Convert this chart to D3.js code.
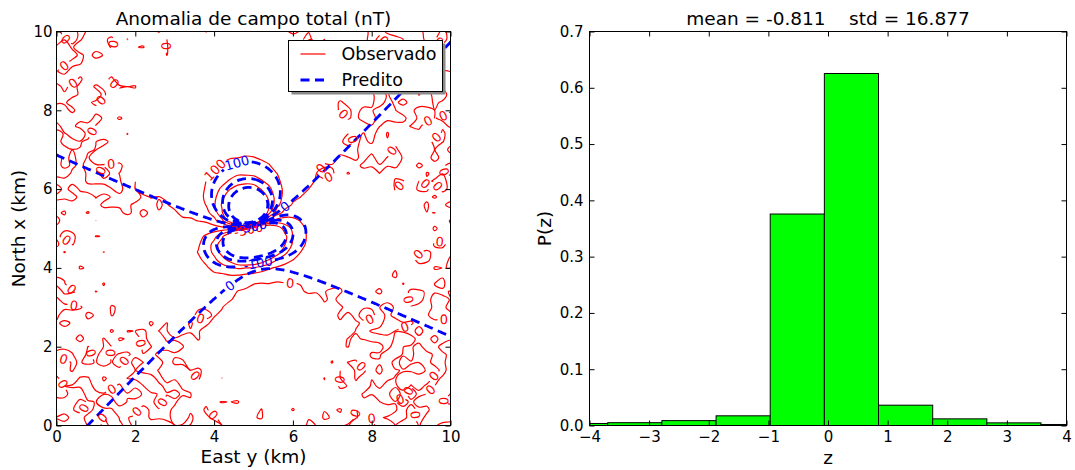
<!DOCTYPE html>
<html>
<head>
<meta charset="utf-8">
<script src="https://cdn.jsdelivr.net/npm/d3@7"></script>
<style>
  body { margin: 0; background: #fff; }
  svg { display: block; font-family: "DejaVu Sans", sans-serif; }
</style>
</head>
<body>
<svg id="fig" width="1075" height="470"></svg>
<script>
// ---------------- contour map ----------------
const eastTicks = [0, 2, 4, 6, 8, 10];
const northTicks = [0, 2, 4, 6, 8, 10];
const contourLevels = [-300, -200, -100, 0, 100, 200, 300];

// grids: points per side, first and last coordinate (km)
const gridObserved = [51, 0, 10];
const gridPredicted = [201, 0, 10];

// dipole sources: east, north, depth (km), moment (nT·km³), inclination, declination (deg)
const sourceObserved = [4.93, 4.86, 0.66, 490, -48.0, -11.0];
const sourcePredicted = [5.0, 4.90, 0.626, 374, -38.7, -11.0];
// inducing field: inclination, declination (deg)
const mainField = [0, -11.0];

// measurement noise of the observed stations, one digit per station (row by row),
// digit d -> (d - 4.5) * noiseStep nT
const noiseStep = 1.3;
const noiseDigits = [
  "3141592653589793238462643383279502884197169399375105820974944592307816406286208998628034825342117067982148086513282306647093844609550582231725359408128481117450284102701938521105559644622948954930381964428810975665933446128475648233786783165271201909145648566923460348610454326648213393607260249141273724587006606315588174881520920962829254091715364367892590360011330530548820466521384146951941511609433057270365759591953092186117381932611793105118548074462379962749567351885752724891227938183011949129833673362440656643086021394946395224737190702179860943702770539217176293176752384674818467669405132000568127145263560827785771342757789609173637178721468440901224953430146549585371050792279689258923542019956112129021960864034418159813629774771309960518707211349999998372978049951059731732816096318595024459455346908302642522308253344685035261931188171010003137838752886587533208381420617177669147303598253490428755468731159562863882353787593751957781857780532171226806613001927876611195909216420198",
  "2718281828459045235360287471352662497757247093699959574966967627724076630353547594571382178525166427427466391932003059921817413596629043572900334295260595630738132328627943490763233829880753195251019011573834187930702154089149934884167509244761460668082264800168477411853742345442437107539077744992069551702761838606261331384583000752044933826560297606737113200709328709127443747047230696977209310141692836819025515108657463772111252389784425056953696770785449969967946864454905987931636889230098793127736178215424999229576351482208269895193668033182528869398496465105820939239829488793320362509443117301238197068416140397019837679320683282376464804295311802328782509819455815301756717361332069811250996181881593041690351598888519345807273866738589422879228499892086805825749279610484198444363463244968487560233624827041978623209002160990235304369941849146314093431738143640546253152096183690888707016768396424378140592714563549061303107208510383750510115747704171898610687396965521267154688957035035",
  "1414213562373095048801688724209698078569671875376948073176679737990732478462107038850387534327641572735013846230912297024924836055850737212644121497099935831413222665927505592755799950501152782060571470109559971605970274534596862014728517418640889198609552329230484308714321450839762603627995251407989687253396546331808829640620615258352395054745750287759961729835575220337531857011354374603408498847160386899970699004815030544027790316454247823068492936918621580578463111596668713013015618568987237235288509264861249497715421833420428568606014682472077143585487415565706967765372022648544701585880162075847492265722600208558446652145839889394437092659180031138824646815708263010059485870400318648034219489727829064104507263688131373985525611732204024509122770022694112757362728049573810896750401836986836845072579936472906076299694138047565482372899718032680247442062926912485905218100445984215059112024944134172853147810580360337107730918286931471017111168391658172688941975871658215212822951848847"
];

// ---------------- histogram of residuals ----------------
const binEdges = [-4.602, -3.694, -2.786, -1.877, -0.969, -0.061, 0.847, 1.756, 2.664, 3.572, 4.481];
const binDensity = [0.0036, 0.0050, 0.0087, 0.0172, 0.3757, 0.6254, 0.0361, 0.0118, 0.0047, 0.0018];
const zTicks = [-4, -3, -2, -1, 0, 1, 2, 3, 4];
const pTicks = [0, 0.1, 0.2, 0.3, 0.4, 0.5, 0.6, 0.7];
const residualStats = [-0.811, 16.877]; // mean, std

// ---------------- layout ----------------
const svg = d3.select("#fig");
svg.append("rect").attr("width", 1075).attr("height", 470).attr("fill", "#fff");
const FONT = "DejaVu Sans, sans-serif";

const boxL = { x0: 56.5, x1: 450.5, y0: 31.5, y1: 425.5 };
const boxR = { x0: 589.5, x1: 1066.5, y0: 31.5, y1: 425.5 };

const xE = d3.scaleLinear().domain([0, 10]).range([boxL.x0, boxL.x1]);
const yN = d3.scaleLinear().domain([0, 10]).range([boxL.y1, boxL.y0]);
const xZ = d3.scaleLinear().domain([-4, 4]).range([boxR.x0, boxR.x1]);
const yP = d3.scaleLinear().domain([0, 0.7]).range([boxR.y1, boxR.y0]);

const defs = svg.append("defs");
defs.append("clipPath").attr("id", "clipL").append("rect")
  .attr("x", boxL.x0).attr("y", boxL.y0)
  .attr("width", boxL.x1 - boxL.x0).attr("height", boxL.y1 - boxL.y0);
defs.append("clipPath").attr("id", "clipR").append("rect")
  .attr("x", boxR.x0).attr("y", boxR.y0)
  .attr("width", boxR.x1 - boxR.x0).attr("height", boxR.y1 - boxR.y0);

// ---------------- field model ----------------
const rad = Math.PI / 180;
function unitVec(inc, dec) { // north, east, down
  return [Math.cos(inc * rad) * Math.cos(dec * rad), Math.cos(inc * rad) * Math.sin(dec * rad), Math.sin(inc * rad)];
}
const fHat = unitVec(mainField[0], mainField[1]);
function dot(a, b) { return a[0] * b[0] + a[1] * b[1] + a[2] * b[2]; }
function totalFieldAnomaly(src, e, n) {
  const [e0, n0, h, moment, inc, dec] = src;
  const m = unitVec(inc, dec);
  const r = [n - n0, e - e0, -h];
  const r2 = dot(r, r);
  return moment * (3 * dot(m, r) * dot(fHat, r) - dot(m, fHat) * r2) / Math.pow(r2, 2.5);
}
const noiseText = noiseDigits.join("").replace(/\D/g, "");
function stationNoise(k) {
  const d = noiseText.charCodeAt(k % noiseText.length) - 48;
  return (d - 4.5) * noiseStep;
}
function gridValues(grid, fn) {
  const [n, a, b] = grid;
  const step = (b - a) / (n - 1);
  const v = new Array(n * n);
  for (let j = 0; j < n; j++)
    for (let i = 0; i < n; i++)
      v[j * n + i] = fn(a + i * step, a + j * step, j * n + i);
  return v;
}
const observed = gridValues(gridObserved, (e, n, k) => totalFieldAnomaly(sourceObserved, e, n) + stationNoise(k));
const predicted = gridValues(gridPredicted, (e, n) => totalFieldAnomaly(sourcePredicted, e, n));

// ---------------- contour helpers ----------------
// turn d3 contour rings into lines, dropping the pieces that run along the grid border
function splitRings(mp, n) {
  const out = [];
  const side = p => (p[0] === 0 ? 1 : 0) | (p[0] === n ? 2 : 0) | (p[1] === 0 ? 4 : 0) | (p[1] === n ? 8 : 0);
  mp.coordinates.forEach(poly => poly.forEach(ring => {
    const m = ring.length - 1;
    if (m < 2) return;
    const bseg = i => (side(ring[i]) & side(ring[i + 1])) !== 0;
    let start = -1;
    for (let i = 0; i < m; i++) if (bseg(i)) { start = i; break; }
    if (start < 0) { out.push({ pts: ring.slice(0, m), closed: true }); return; }
    let cur = null;
    for (let k = 1; k <= m; k++) {
      const i = (start + k) % m;
      if (bseg(i)) {
        if (cur && cur.length > 1) out.push({ pts: cur, closed: false });
        cur = null;
      } else {
        if (!cur) cur = [ring[i]];
        cur.push(ring[i + 1]);
      }
    }
    if (cur && cur.length > 1) out.push({ pts: cur, closed: false });
  }));
  return out;
}

// label widths for the 13px contour labels (DejaVu Sans advance widths)
const glyphWidth = { "0": 0.636, "1": 0.636, "2": 0.636, "3": 0.636, "-": 0.361 };
function textWidth(s) { return 13 * s.split("").reduce((t, ch) => t + (glyphWidth[ch] || 0.636), 0); }

function pointAt(pts, cum, s) {
  let lo = 1, hi = cum.length - 1;
  while (lo < hi) { const mid = (lo + hi) >> 1; if (cum[mid] < s) lo = mid + 1; else hi = mid; }
  const i = Math.max(1, lo);
  const seg = cum[i] - cum[i - 1] || 1;
  const t = Math.max(0, Math.min(1, (s - cum[i - 1]) / seg));
  return [pts[i - 1][0] + t * (pts[i][0] - pts[i - 1][0]), pts[i - 1][1] + t * (pts[i][1] - pts[i - 1][1])];
}
function insideBox(c, w) {
  return c[0] > boxL.x0 + w / 2 + 2 && c[0] < boxL.x1 - w / 2 - 2 && c[1] > boxL.y0 + 7 && c[1] < boxL.y1 - 7;
}
// a fairly straight stretch of a line where an inline label fits;
// open lines prefer their middle, closed rings the side given by `lean`
function bestLabelSpot(pts, cum, w, closed, lean) {
  const total = cum[cum.length - 1];
  const half = w / 2 + 2.5;
  const xs = pts.map(p => p[0]), ys = pts.map(p => p[1]);
  const bx = [d3.min(xs), d3.max(xs)], by = [d3.min(ys), d3.max(ys)];
  let best = null, bestScore = Infinity;
  for (let s = half; s <= total - half; s += 2) {
    const c = pointAt(pts, cum, s);
    if (!insideBox(c, w)) continue;
    const a = pointAt(pts, cum, s - half), b = pointAt(pts, cum, s + half);
    const dx = b[0] - a[0], dy = b[1] - a[1];
    const len = Math.hypot(dx, dy) || 1e-6;
    let dev = 0;
    for (let q = s - half; q <= s + half; q += 1.5) {
      const p = pointAt(pts, cum, q);
      dev += Math.abs((p[0] - a[0]) * dy - (p[1] - a[1]) * dx) / len;
    }
    let score = dev;
    if (closed) {
      const ux = lean[0] < 0 ? c[0] - bx[0] : bx[1] - c[0];
      const uy = lean[1] < 0 ? c[1] - by[0] : by[1] - c[1];
      score += 0.05 * (Math.abs(lean[0]) * ux + Math.abs(lean[1]) * uy);
    } else {
      score += 0.03 * Math.abs(s - total / 2);
    }
    if (score < bestScore) { bestScore = score; best = s; }
  }
  if (best === null && insideBox(pointAt(pts, cum, total / 2), w)) best = total / 2;
  return best;
}

const lineOpen = d3.line().curve(d3.curveCatmullRom.alpha(0.5));
const lineClosed = d3.line().curve(d3.curveCatmullRomClosed.alpha(0.5));
const lineLayer = svg.append("g").attr("clip-path", "url(#clipL)");
const labelLayer = svg.append("g").attr("clip-path", "url(#clipL)");

function drawContourSet(values, grid, style) {
  const [n, a, b] = grid;
  const step = (b - a) / (n - 1);
  const toPx = p => [xE(a + (p[0] - 0.5) * step), yN(a + (p[1] - 0.5) * step)];
  const gen = d3.contours().size([n, n]);
  const g = lineLayer.append("g");
  const placed = [];
  const labels = [];
  contourLevels.forEach(level => {
    const txt = String(level);
    const w = textWidth(txt);
    splitRings(gen.contour(values, level), n).forEach(path => {
      const pts = path.pts.map(toPx);
      if (path.closed) pts.push(pts[0]);
      const cum = [0];
      for (let i = 1; i < pts.length; i++)
        cum.push(cum[i - 1] + Math.hypot(pts[i][0] - pts[i - 1][0], pts[i][1] - pts[i - 1][1]));
      const total = cum[cum.length - 1];
      const xs = pts.map(p => p[0]), ys = pts.map(p => p[1]);
      const extent = Math.max(d3.max(xs) - d3.min(xs), d3.max(ys) - d3.min(ys));
      let pieces = [pts];
      let closed = path.closed;
      if (extent > style.labelExtent * w && total > w + 8) {
        const sc = bestLabelSpot(pts, cum, w, path.closed, style.lean);
        if (sc !== null) {
          const c = pointAt(pts, cum, sc);
          const free = placed.every(q => Math.hypot(q[0] - c[0], q[1] - c[1]) > style.gap * w);
          if (free) {
            const s1 = Math.max(0, sc - w / 2 - 2.5), s2 = Math.min(total, sc + w / 2 + 2.5);
            const p1 = pointAt(pts, cum, s1), p2 = pointAt(pts, cum, s2);
            let ang = Math.atan2(p2[1] - p1[1], p2[0] - p1[0]) * 180 / Math.PI;
            if (ang > 90) ang -= 180;
            if (ang < -90) ang += 180;
            const before = pts.filter((p, i) => cum[i] < s1).concat([p1]);
            const after = [p2].concat(pts.filter((p, i) => cum[i] > s2));
            pieces = path.closed ? [after.concat(before.slice(1))] : [before, after];
            closed = false;
            placed.push(c);
            labels.push({ x: c[0], y: c[1], ang, txt });
          }
        }
      }
      pieces.forEach(pc => {
        if (pc.length < 2) return;
        g.append("path")
          .attr("d", closed ? lineClosed(pc.slice(0, -1)) : lineOpen(pc))
          .attr("fill", "none")
          .attr("stroke", style.color)
          .attr("stroke-width", style.width)
          .attr("stroke-dasharray", style.dash)
          .attr("stroke-linejoin", "round");
      });
    });
  });
  labels.forEach(l => {
    labelLayer.append("text")
      .attr("transform", `translate(${l.x.toFixed(2)},${l.y.toFixed(2)}) rotate(${l.ang.toFixed(1)})`)
      .attr("text-anchor", "middle")
      .attr("dy", "0.36em")
      .attr("font-family", FONT)
      .attr("font-size", 13)
      .attr("fill", style.color)
      .text(l.txt);
  });
}

drawContourSet(observed, gridObserved, { color: "#ff0000", width: 1.2, dash: null, labelExtent: 1.4, gap: 1.2, lean: [1, -1] });
drawContourSet(predicted, gridPredicted, { color: "#0000ff", width: 2.8, dash: "9,5.5", labelExtent: 1.4, gap: 1.2, lean: [-1, -0.4] });

// ---------------- axes helpers ----------------
function frame(box) {
  svg.append("rect")
    .attr("x", box.x0).attr("y", box.y0)
    .attr("width", box.x1 - box.x0).attr("height", box.y1 - box.y0)
    .attr("fill", "none").attr("stroke", "#000").attr("stroke-width", 1);
}
function axes(box, xs, ys, xt, yt, xfmt, yfmt, ypad) {
  const styleAxis = sel => {
    sel.select(".domain").remove();
    sel.attr("font-family", FONT).attr("font-size", 15);
    sel.selectAll("line").attr("stroke", "#000");
    sel.selectAll("text").attr("fill", "#000");
  };
  svg.append("g").attr("transform", `translate(0,${box.y1})`)
    .call(d3.axisBottom(xs).tickValues(xt).tickFormat(xfmt).tickSizeInner(-5).tickSizeOuter(0).tickPadding(5.5))
    .call(styleAxis);
  svg.append("g").attr("transform", `translate(0,${box.y0})`)
    .call(d3.axisTop(xs).tickValues(xt).tickFormat("").tickSizeInner(-5).tickSizeOuter(0))
    .call(styleAxis);
  svg.append("g").attr("transform", `translate(${box.x0},0)`)
    .call(d3.axisLeft(ys).tickValues(yt).tickFormat(yfmt).tickSizeInner(-5).tickSizeOuter(0).tickPadding(ypad))
    .call(styleAxis);
  svg.append("g").attr("transform", `translate(${box.x1},0)`)
    .call(d3.axisRight(ys).tickValues(yt).tickFormat("").tickSizeInner(-5).tickSizeOuter(0))
    .call(styleAxis);
}
function label(text, x, y, rot) {
  return svg.append("text")
    .attr("transform", `translate(${x},${y})` + (rot ? ` rotate(${rot})` : ""))
    .attr("text-anchor", "middle")
    .attr("font-family", FONT)
    .attr("font-size", 18.5)
    .attr("fill", "#000")
    .style("white-space", "pre")
    .text(text);
}

// ---------------- left panel decorations ----------------
axes(boxL, xE, yN, eastTicks, northTicks, d3.format("d"), d3.format("d"), 4);
frame(boxL);
label("Anomalia de campo total (nT)", (boxL.x0 + boxL.x1) / 2, 24.5);
label("East y (km)", (boxL.x0 + boxL.x1) / 2, 463);
label("North x (km)", 25, (boxL.y0 + boxL.y1) / 2, -90);

// legend
const leg = { x: 288.5, y: 40.5, w: 154, h: 51 };
svg.append("rect").attr("x", leg.x + 3).attr("y", leg.y + 3).attr("width", leg.w).attr("height", leg.h)
  .attr("fill", "#8a8a8a");
svg.append("rect").attr("x", leg.x).attr("y", leg.y).attr("width", leg.w).attr("height", leg.h)
  .attr("fill", "#fff").attr("stroke", "#000").attr("stroke-width", 1);
const legendItems = [
  { name: "Observado", color: "#ff0000", width: 1.2, dash: null },
  { name: "Predito", color: "#0000ff", width: 2.8, dash: "9,5.5" }
];
legendItems.forEach((it, i) => {
  const cy = leg.y + 13.5 + i * 26;
  svg.append("line").attr("x1", leg.x + 12).attr("x2", leg.x + 37).attr("y1", cy).attr("y2", cy)
    .attr("stroke", it.color).attr("stroke-width", it.width).attr("stroke-dasharray", it.dash);
  svg.append("text").attr("x", leg.x + 53).attr("y", cy + 6.3)
    .attr("font-family", FONT).attr("font-size", 17.5).attr("fill", "#000").text(it.name);
});

// ---------------- right panel: histogram ----------------
const bars = svg.append("g").attr("clip-path", "url(#clipR)");
bars.selectAll("rect").data(binDensity).join("rect")
  .attr("x", (d, i) => xZ(binEdges[i]))
  .attr("width", (d, i) => xZ(binEdges[i + 1]) - xZ(binEdges[i]))
  .attr("y", d => yP(d))
  .attr("height", d => yP(0) - yP(d))
  .attr("fill", "#00ff00")
  .attr("stroke", "#000")
  .attr("stroke-width", 1);

axes(boxR, xZ, yP, zTicks, pTicks, d3.format("d"), d3.format(".1f"), 6);
frame(boxR);
label(`mean = ${residualStats[0].toFixed(3)}    std = ${residualStats[1].toFixed(3)}`, (boxR.x0 + boxR.x1) / 2, 24.5);
label("z", (boxR.x0 + boxR.x1) / 2, 464);
label("P(z)", 551, (boxR.y0 + boxR.y1) / 2, -90);
</script>
</body>
</html>
